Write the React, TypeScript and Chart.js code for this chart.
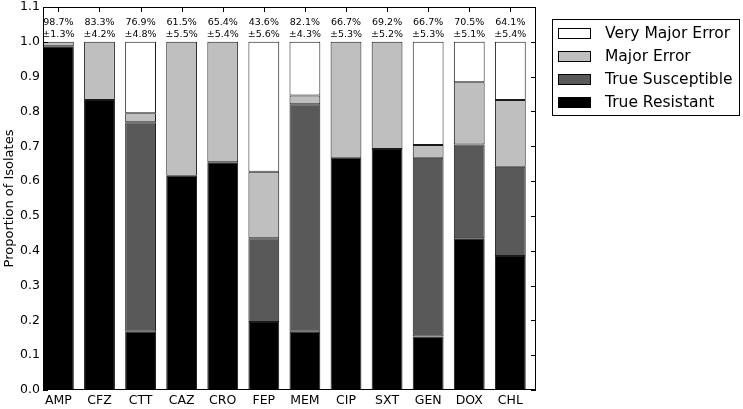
import React, { useEffect, useRef } from "react";
import Chart from "chart.js/auto";

const categories = ["AMP", "CFZ", "CTT", "CAZ", "CRO", "FEP", "MEM", "CIP", "SXT", "GEN", "DOX", "CHL"];
const trueResistant = [0.987, 0.833, 0.167, 0.615, 0.654, 0.195, 0.167, 0.667, 0.692, 0.154, 0.436, 0.385];
const trueSusceptible = [0, 0, 0.602, 0, 0, 0.241, 0.654, 0, 0, 0.513, 0.269, 0.256];
const majorError = [0.013, 0.167, 0.026, 0.385, 0.346, 0.191, 0.025, 0.333, 0.308, 0.037, 0.179, 0.192];
const veryMajorError = [0, 0, 0.205, 0, 0, 0.373, 0.154, 0, 0, 0.296, 0.116, 0.167];
const accuracyLabels = ["98.7%", "83.3%", "76.9%", "61.5%", "65.4%", "43.6%", "82.1%", "66.7%", "69.2%", "66.7%", "70.5%", "64.1%"];
const errorLabels = ["±1.3%", "±4.2%", "±4.8%", "±5.5%", "±5.4%", "±5.6%", "±4.3%", "±5.3%", "±5.2%", "±5.3%", "±5.1%", "±5.4%"];
const yTicks = [0, 0.1, 0.2, 0.3, 0.4, 0.5, 0.6, 0.7, 0.8, 0.9, 1.0, 1.1];

const FONT = "'DejaVu Sans', sans-serif";
const BAR_OFFSET = 0.375; // bars start at the category edge, width 0.75

const toPoints = (vals: number[]) => vals.map((v, i) => ({ x: i + BAR_OFFSET, y: v }));

const framePlugin = {
    id: "frame",
    afterDraw(chart: any) {
        const { ctx, chartArea: a, scales } = chart;
        ctx.save();
        ctx.strokeStyle = "#000";
        ctx.lineWidth = 1;
        ctx.strokeRect(a.left + 0.5, a.top + 0.5, a.right - a.left - 1, a.bottom - a.top - 1);
        ctx.beginPath();
        scales.y.ticks.forEach((t: any) => {
            const py = Math.round(scales.y.getPixelForValue(t.value)) + 0.5;
            ctx.moveTo(a.left, py);
            ctx.lineTo(a.left + 5, py);
            ctx.moveTo(a.right, py);
            ctx.lineTo(a.right - 5, py);
        });
        scales.x.ticks.forEach((t: any) => {
            const px = Math.round(scales.x.getPixelForValue(t.value)) + 0.5;
            ctx.moveTo(px, a.top);
            ctx.lineTo(px, a.top + 5);
            ctx.moveTo(px, a.bottom);
            ctx.lineTo(px, a.bottom - 5);
        });
        ctx.stroke();
        ctx.restore();
    },
};

const annotationPlugin = {
    id: "annotations",
    afterDatasetsDraw(chart: any) {
        const { ctx, scales } = chart;
        ctx.save();
        ctx.fillStyle = "#000";
        ctx.font = `9.5px ${FONT}`;
        ctx.textAlign = "center";
        ctx.textBaseline = "middle";
        categories.forEach((_, i) => {
            const px = scales.x.getPixelForValue(i + BAR_OFFSET);
            ctx.fillText(accuracyLabels[i], px, scales.y.getPixelForValue(1.055));
            ctx.fillText(errorLabels[i], px, scales.y.getPixelForValue(1.022));
        });
        ctx.restore();
    },
};

const legendPlugin = {
    id: "boxLegend",
    afterDraw(chart: any) {
        const { ctx } = chart;
        const datasets = [...chart.data.datasets].reverse();
        ctx.save();
        ctx.strokeStyle = "#000";
        ctx.lineWidth = 1;
        ctx.fillStyle = "#fff";
        ctx.fillRect(552.5, 19.5, 187, 96);
        ctx.strokeRect(552.5, 19.5, 187, 96);
        ctx.font = `15.5px ${FONT}`;
        ctx.textBaseline = "middle";
        datasets.forEach((ds: any, i: number) => {
            const cy = 32.5 + i * 23.3;
            ctx.fillStyle = ds.backgroundColor;
            ctx.fillRect(558.5, Math.round(cy - 5) + 0.5, 32, 10);
            ctx.strokeRect(558.5, Math.round(cy - 5) + 0.5, 32, 10);
            ctx.fillStyle = "#000";
            ctx.fillText(ds.label, 605, cy + 1);
        });
        ctx.restore();
    },
};

const App: React.FC = () => {
    const chartRef = useRef<HTMLCanvasElement>(null);
    const chartInstanceRef = useRef<Chart | null>(null);

    useEffect(() => {
        if (!chartRef.current) return;
        const ctx = chartRef.current.getContext("2d");
        if (!ctx) return;
        if (chartInstanceRef.current) chartInstanceRef.current.destroy();

        const common = { borderColor: "#1a1a1a", borderWidth: 1, borderSkipped: false, barPercentage: 0.75, categoryPercentage: 1 };

        chartInstanceRef.current = new Chart(ctx, {
            type: "bar",
            data: {
                datasets: [
                    { label: "True Resistant", data: toPoints(trueResistant), backgroundColor: "#000000", ...common },
                    { label: "True Susceptible", data: toPoints(trueSusceptible), backgroundColor: "#595959", ...common },
                    { label: "Major Error", data: toPoints(majorError), backgroundColor: "#bfbfbf", ...common },
                    { label: "Very Major Error", data: toPoints(veryMajorError), backgroundColor: "#ffffff", ...common },
                ] as any,
            },
            options: {
                animation: false,
                responsive: true,
                maintainAspectRatio: false,
                layout: { padding: { top: 0, right: 207, left: 0, bottom: 0 } },
                scales: {
                    x: {
                        type: "linear",
                        stacked: true,
                        offset: false,
                        min: 0,
                        max: categories.length,
                        grid: { display: false, drawTicks: false },
                        border: { display: false },
                        afterBuildTicks: (scale: any) => {
                            scale.ticks = categories.map((_, i) => ({ value: i + BAR_OFFSET }));
                        },
                        afterFit: (scale: any) => {
                            scale.height = 19;
                        },
                        ticks: {
                            autoSkip: false,
                            maxRotation: 0,
                            padding: 3,
                            color: "#000",
                            font: { family: FONT, size: 12.5 },
                            callback: (_v: any, i: number) => categories[i],
                        },
                    },
                    y: {
                        stacked: true,
                        min: 0,
                        max: 1.1,
                        grid: { display: false, drawTicks: false },
                        border: { display: false },
                        afterBuildTicks: (scale: any) => {
                            scale.ticks = yTicks.map((v) => ({ value: v }));
                        },
                        afterFit: (scale: any) => {
                            scale.width = 43;
                            scale.paddingTop = 7;
                            scale.paddingBottom = 0;
                        },
                        ticks: {
                            padding: 3,
                            color: "#000",
                            font: { family: FONT, size: 12.5 },
                            callback: (v: any) => Number(v).toFixed(1),
                        },
                        title: {
                            display: true,
                            text: "Proportion of Isolates",
                            color: "#000",
                            font: { family: FONT, size: 13 },
                            padding: { top: 2, bottom: 0 },
                        },
                    },
                },
                plugins: {
                    legend: { display: false },
                    tooltip: { enabled: false },
                },
            },
            plugins: [annotationPlugin, framePlugin, legendPlugin],
        });

        return () => {
            if (chartInstanceRef.current) {
                chartInstanceRef.current.destroy();
                chartInstanceRef.current = null;
            }
        };
    }, []);

    return (
        <div style={{ position: "absolute", left: 0, top: 0, width: 743, height: 409, background: "#fff" }}>
            <canvas ref={chartRef} />
        </div>
    );
};

export default App;
